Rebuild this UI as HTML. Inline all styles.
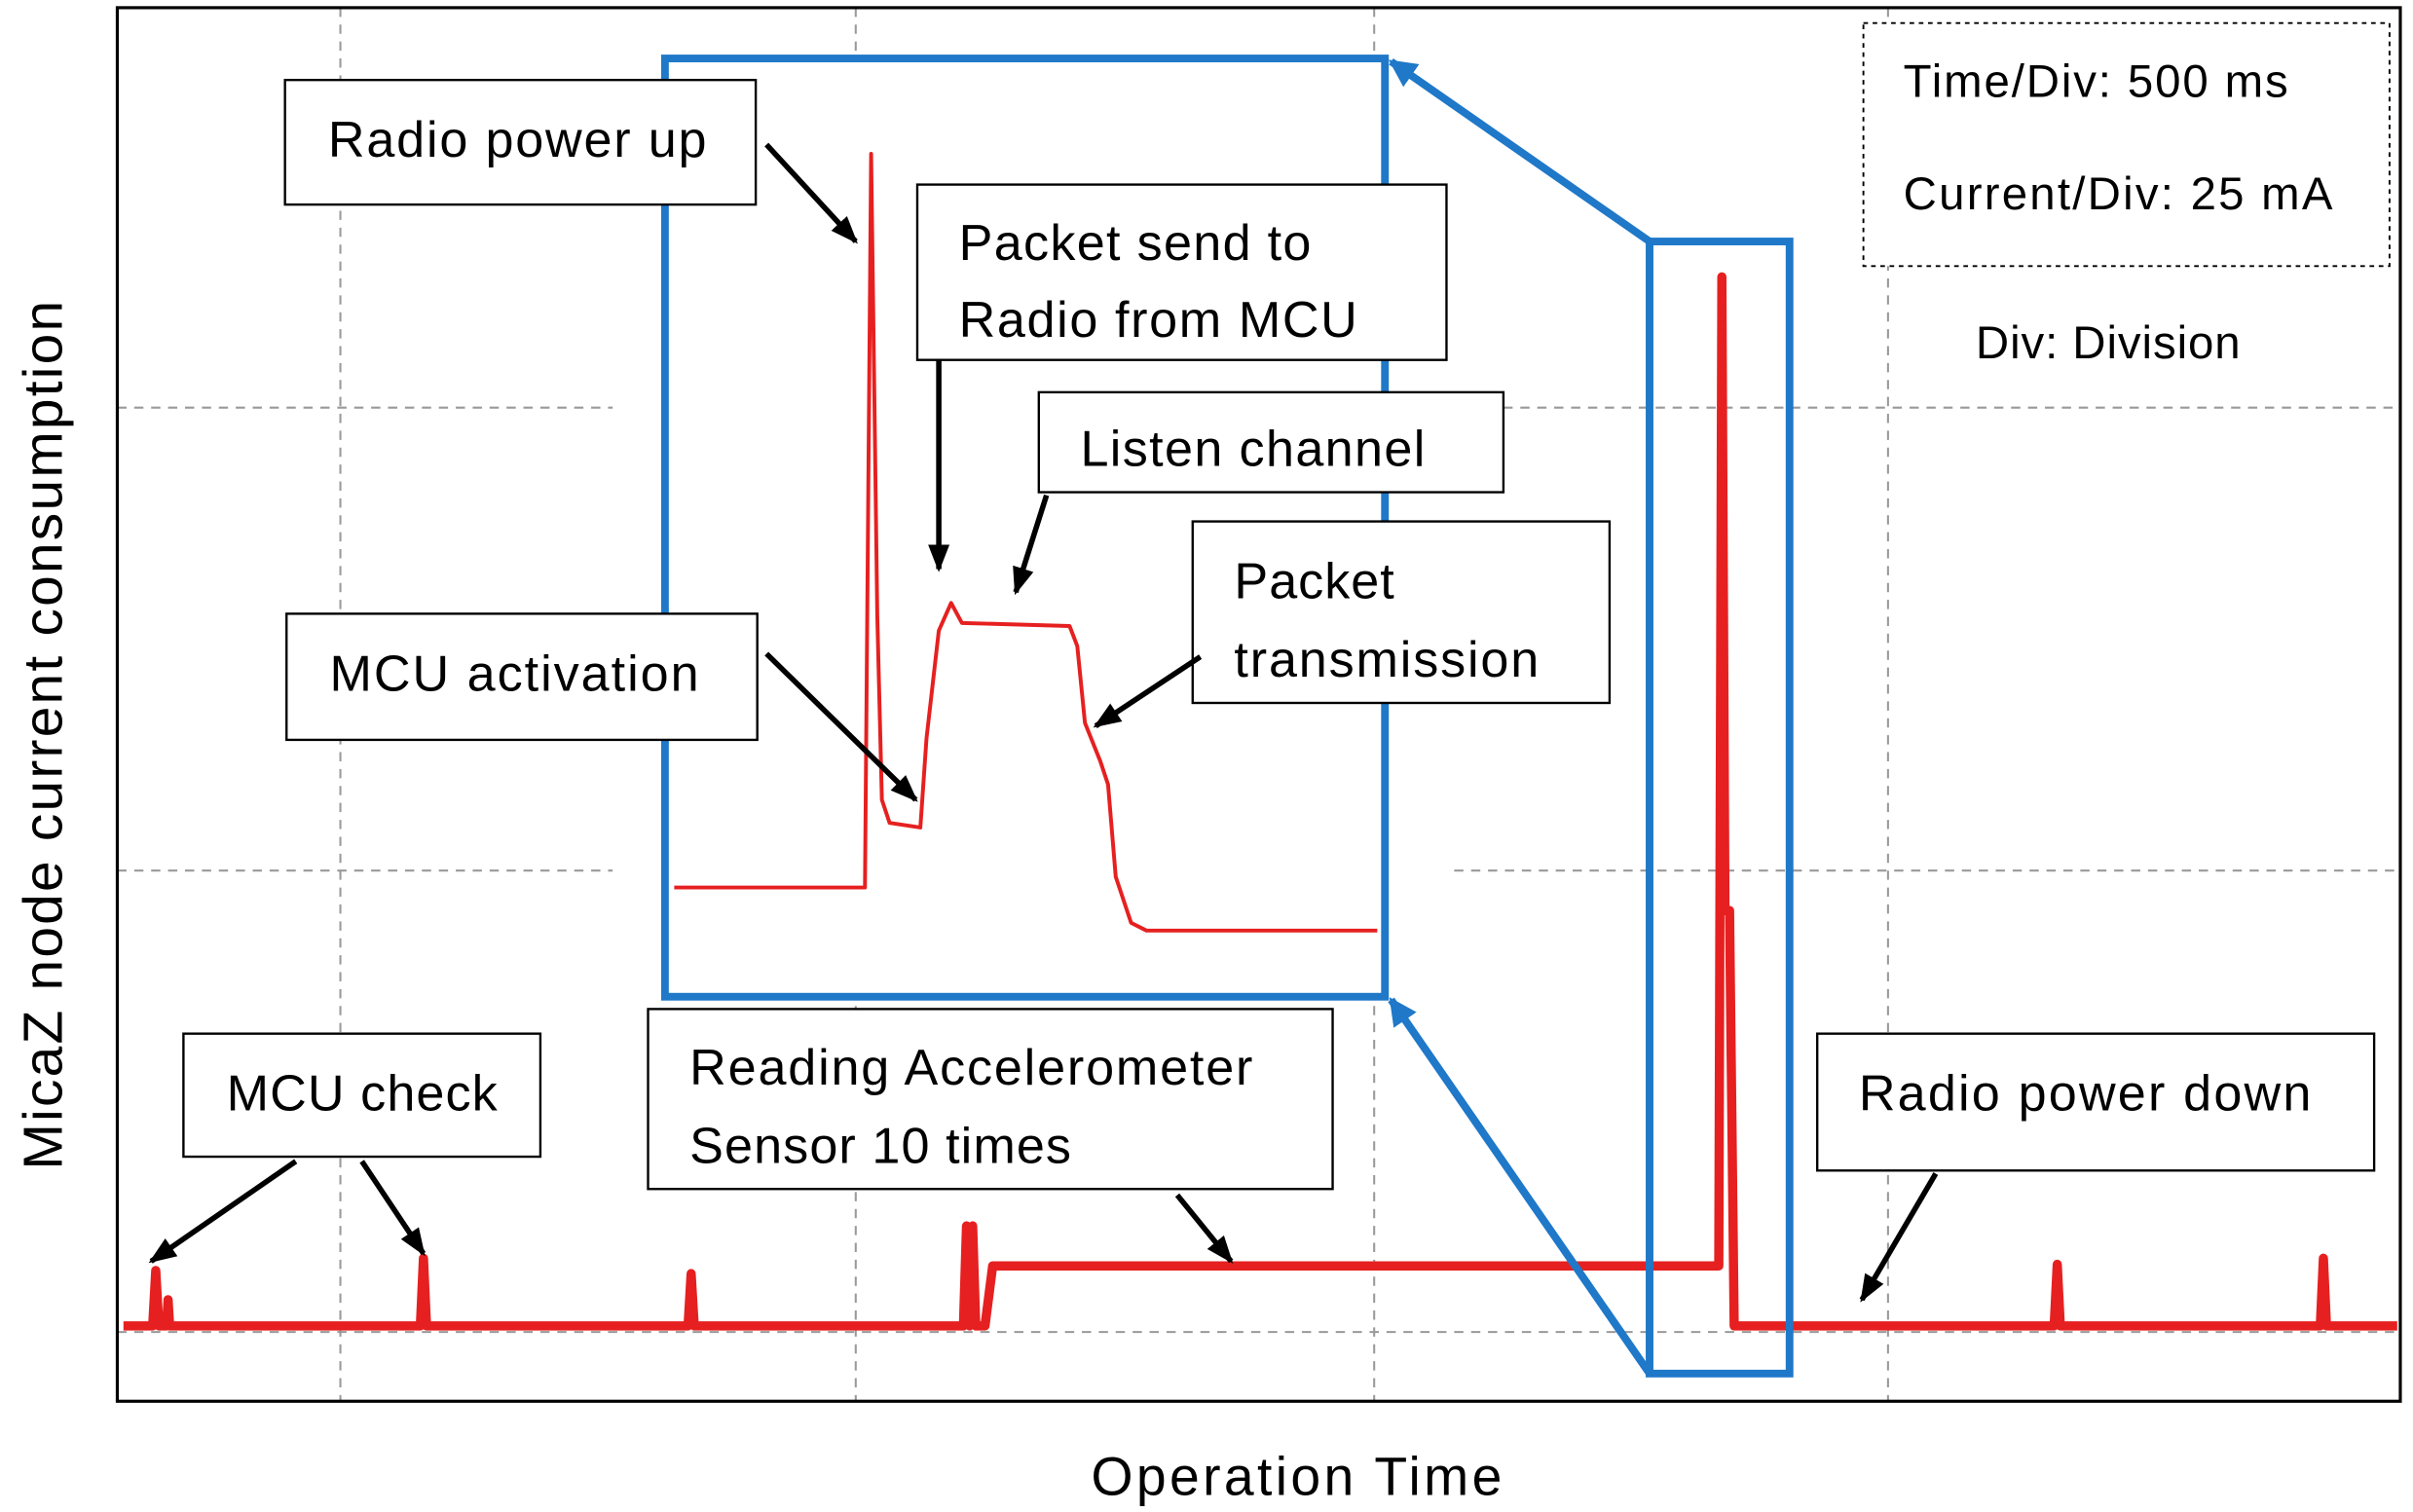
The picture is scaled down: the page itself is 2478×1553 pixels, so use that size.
<!DOCTYPE html>
<html><head><style>
html,body{margin:0;padding:0;background:#fff;}
svg{display:block;}
text{font-family:"Liberation Sans",sans-serif;fill:#000;}
</style></head><body>
<svg width="2478" height="1553" viewBox="0 0 1568 983" xmlns="http://www.w3.org/2000/svg">
<defs>
<marker id="bh" markerWidth="18" markerHeight="18" refX="16" refY="9" orient="auto" markerUnits="userSpaceOnUse">
<path d="M0,0 L18,9 L0,18 z" fill="#1f78c8"/></marker>
<marker id="kh" markerWidth="18" markerHeight="18" refX="16" refY="9" orient="auto" markerUnits="userSpaceOnUse">
<path d="M0,2 L18,9 L0,16 z" fill="#000"/></marker>
</defs>
<rect x="0" y="0" width="1568" height="983" fill="#fff"/>
<g stroke="#999" stroke-width="1.3" stroke-dasharray="6,5" fill="none">
<line x1="221" y1="5" x2="221" y2="911"/>
<line x1="556" y1="5" x2="556" y2="911"/>
<line x1="893" y1="5" x2="893" y2="911"/>
<line x1="1227" y1="5" x2="1227" y2="911"/>
<line x1="76" y1="265" x2="398" y2="265"/>
<line x1="900" y1="265" x2="1560" y2="265"/>
<line x1="76" y1="566" x2="398" y2="566"/>
<line x1="945" y1="566" x2="1560" y2="566"/>
<line x1="76" y1="866" x2="1560" y2="866"/>
</g>
<rect x="432" y="38" width="468" height="610" fill="#fff"/>
<rect x="76" y="5" width="1484" height="906" fill="none" stroke="#000" stroke-width="2"/>
<polyline fill="none" stroke="#e62020" stroke-width="6" stroke-linejoin="round" points="80,862 99,862 101,826 103,862 108,862 109,845 110,862 273,862 275,818 277,862 447,862 449,828 451,862 626,862 628,797 630,862 632,797 634,862 640,862 645,823 1117,823 1119,180 1121,592 1124,592 1127,862 1335,862 1337,822 1339,862 1508,862 1510,818 1512,862 1558,862"/>
<polyline fill="none" stroke="#e62020" stroke-width="2.5" stroke-linejoin="round" points="438,577 562,577 566,100 570,400 573,520 578,535 598,538 602,480 610,410 618,392 625,405 695,407 700,420 705,470 715,495 720,510 725,570 735,600 745,605 895,605"/>
<g stroke="#1f78c8" stroke-width="5" fill="none">
<rect x="432" y="38" width="468" height="610"/>
<rect x="1072" y="157" width="91" height="736"/>
<line x1="1072" y1="157" x2="904" y2="40" marker-end="url(#bh)"/>
<line x1="1072" y1="893" x2="904" y2="650" marker-end="url(#bh)"/>
</g>
<g fill="#fff" stroke="#000" stroke-width="1.5">
<rect x="185" y="52" width="306" height="81"/>
<rect x="596" y="120" width="344" height="114"/>
<rect x="675" y="255" width="302" height="65"/>
<rect x="775" y="339" width="271" height="118"/>
<rect x="186" y="399" width="306" height="82"/>
<rect x="119" y="672" width="232" height="80"/>
<rect x="421" y="656" width="445" height="117"/>
<rect x="1181" y="672" width="362" height="89"/>
</g>
<rect x="1211" y="15" width="342" height="158" fill="#fff" stroke="#000" stroke-width="1.2" stroke-dasharray="3,3"/>
<g font-size="33">
<text x="213" y="102" textLength="246">Radio power up</text>
<text x="623" y="169" textLength="229">Packet send to</text>
<text x="623" y="219" textLength="259">Radio from MCU</text>
<text x="702" y="303" textLength="224">Listen channel</text>
<text x="802" y="389" textLength="104">Packet</text>
<text x="802" y="440" textLength="198">transmission</text>
<text x="214" y="449" textLength="240">MCU activation</text>
<text x="147" y="722" textLength="176">MCU check</text>
<text x="448" y="705" textLength="366">Reading Accelerometer</text>
<text x="448" y="756" textLength="248">Sensor 10 times</text>
<text x="1208" y="722" textLength="294">Radio power down</text>
</g>
<g font-size="30">
<text x="1237" y="63" textLength="250">Time/Div: 500 ms</text>
<text x="1237" y="136" textLength="279">Current/Div: 25 mA</text>
<text x="1284" y="233" textLength="172">Div: Division</text>
</g>
<text x="709" y="972" font-size="35" textLength="267">Operation Time</text>
<text transform="translate(40,478) rotate(-90)" font-size="36" text-anchor="middle" textLength="565">MicaZ node current consumption</text>
<g stroke="#000" stroke-width="3.5" fill="none">
<line x1="498" y1="94" x2="556" y2="157" marker-end="url(#kh)"/>
<line x1="610" y1="234" x2="610" y2="370" marker-end="url(#kh)"/>
<line x1="680" y1="322" x2="660" y2="385" marker-end="url(#kh)"/>
<line x1="780" y1="427" x2="712" y2="472" marker-end="url(#kh)"/>
<line x1="498" y1="425" x2="595" y2="520" marker-end="url(#kh)"/>
<line x1="192" y1="755" x2="98" y2="820" marker-end="url(#kh)"/>
<line x1="235" y1="755" x2="275" y2="815" marker-end="url(#kh)"/>
<line x1="765" y1="777" x2="800" y2="820" marker-end="url(#kh)"/>
<line x1="1258" y1="763" x2="1210" y2="845" marker-end="url(#kh)"/>
</g>
</svg>
</body></html>
